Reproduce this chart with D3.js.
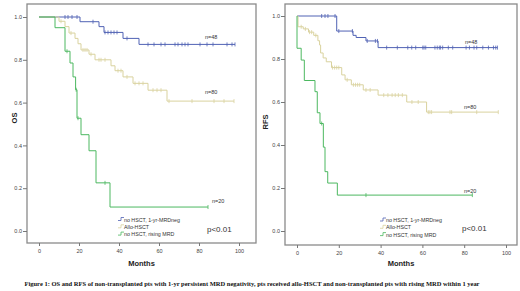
<!DOCTYPE html>
<html>
<head>
<meta charset="utf-8">
<script src="https://cdn.jsdelivr.net/npm/d3@7"></script>
<style>
  body { margin: 0; background: #fff; }
  svg { display: block; }
  text { font-family: "Liberation Sans", Arial, sans-serif; }
</style>
</head>
<body>
<div id="chart"></div>
<script>
// tick labels / legend
const xTicks = [0, 20, 40, 60, 80, 100];
const yTicks = [0, 0.2, 0.4, 0.6, 0.8, 1.0];
const seriesNames = ["no HSCT, 1-yr-MRDneg", "Allo-HSCT", "no HSCT, rising MRD"];
const seriesColors = ["#5062b4", "#d9d29e", "#4cb860"];
const nLabels = ["n=48", "n=80", "n=20"];

// OS — step events [month, survival]
const osNegSteps = [[0, 1], [20.5, 0.978], [30, 0.955], [32.5, 0.928], [42, 0.90], [50, 0.872]];
const osNegCensor = [13, 14.5, 16.5, 19, 27, 33, 34.5, 36, 37.5, 39, 44, 54.5, 57.5, 61, 63, 68, 69.5, 71.5, 73, 74.5, 80.5, 84, 87, 94, 96.5, 98];
const osAlloSteps = [[0, 1], [10, 0.98], [13, 0.955], [15, 0.925], [18, 0.90], [19.5, 0.875], [21, 0.846], [25, 0.826], [28, 0.80], [36, 0.772], [38, 0.749], [42, 0.72], [47, 0.69], [54.5, 0.658], [64, 0.607]];
const osAlloCensor = [11, 16, 22, 23, 24, 26, 30, 31, 33, 39.5, 41, 44, 48, 50, 52, 57, 59, 61, 65, 76.5, 87.5, 92.5, 97.5];
const osRiseSteps = [[0, 1], [8, 0.95], [13, 0.84], [15.5, 0.785], [17, 0.72], [18.3, 0.66], [19, 0.527], [21, 0.45], [25, 0.375], [28.5, 0.225], [35.5, 0.112]];
const osRiseCensor = [14, 18.6, 19.5, 33, 84.5];

// RFS — step events [month, survival]
const rfsNegSteps = [[0, 1], [19, 0.93], [26.8, 0.91], [28.3, 0.90], [33, 0.884], [38.8, 0.853]];
const rfsNegCensor = [11.8, 13.4, 14.8, 18.2, 20, 26.5, 33.6, 37.5, 38.5, 42.9, 48, 53, 54.9, 56.8, 60.2, 60.8, 61.6, 66, 67.1, 68.1, 68.7, 69.7, 72.4, 74.5, 80.9, 82.5, 84.7, 86, 88.9, 91.6, 94, 95.1, 95.9];
const rfsAlloSteps = [[0, 1], [0.5, 0.95], [3, 0.94], [5.5, 0.925], [8, 0.91], [10, 0.885], [10.8, 0.865], [11.3, 0.828], [12.5, 0.805], [14, 0.787], [16.5, 0.76], [21.4, 0.726], [23, 0.703], [26, 0.68], [31.7, 0.656], [38.8, 0.632], [52.5, 0.60], [62, 0.553]];
const rfsAlloCensor = [2, 4, 6, 7, 9, 17, 18, 19, 20, 24, 27, 28, 29, 30, 33, 35, 41.5, 43.5, 45.5, 47, 48.5, 50.4, 55, 58, 62.8, 63.6, 64.4, 73.2, 74, 86, 96.3];
const rfsRiseSteps = [[0, 0.85], [2, 0.795], [3.5, 0.70], [8.6, 0.648], [9.7, 0.55], [11, 0.50], [12.6, 0.39], [13.4, 0.276], [14.7, 0.223], [19.3, 0.167]];
const rfsRiseCensor = [11.8, 33, 83.9];

const caption = "Figure 1: OS and RFS of non-transplanted pts with 1-yr persistent MRD negativity, pts received allo-HSCT and non-transplanted pts with rising MRD within 1 year";

const W = 520, H = 291;
const svg = d3.select("#chart").append("svg").attr("width", W).attr("height", H);

function survAt(steps, t) {
  let s = steps[0][1];
  steps.forEach(d => { if (d[0] <= t) s = d[1]; });
  return s;
}

function drawPanel(cfg) {
  const x = d3.scaleLinear().domain([0, 100]).range(cfg.xRange);
  const y = d3.scaleLinear().domain([0, 1]).range(cfg.yRange);
  const g = svg.append("g");

  // frame
  g.append("rect")
    .attr("x", cfg.frame[0]).attr("y", cfg.frame[1])
    .attr("width", cfg.frame[2] - cfg.frame[0]).attr("height", cfg.frame[3] - cfg.frame[1])
    .attr("fill", "none").attr("stroke", "#8a8a8a").attr("stroke-width", 1.3);

  // y axis
  const yAxis = g.append("g").attr("transform", `translate(${cfg.frame[0]},0)`)
    .call(d3.axisLeft(y).tickValues(yTicks).tickFormat(d3.format(".1f")).tickSize(4).tickPadding(1));
  yAxis.select(".domain").remove();
  yAxis.selectAll("line").attr("stroke", "#777");
  yAxis.selectAll("text").attr("font-size", 5.5).attr("fill", "#444")
    .style("font-family", "'Liberation Sans', Arial, sans-serif");

  // x axis
  const xAxis = g.append("g").attr("transform", `translate(0,${cfg.frame[3]})`)
    .call(d3.axisBottom(x).tickValues(xTicks).tickSize(3).tickPadding(3));
  xAxis.select(".domain").remove();
  xAxis.selectAll("line").attr("stroke", "#777");
  xAxis.selectAll("text").attr("font-size", 5.5).attr("fill", "#444")
    .style("font-family", "'Liberation Sans', Arial, sans-serif");

  g.append("text").attr("x", (cfg.frame[0] + cfg.frame[2]) / 2).attr("y", 266)
    .attr("text-anchor", "middle").attr("font-size", 7.5).attr("font-weight", "bold")
    .attr("fill", "#222").text("Months");
  g.append("text").attr("transform", `translate(${cfg.ylabX},${cfg.ylabY}) rotate(-90)`)
    .attr("text-anchor", "middle").attr("font-size", 7.5).attr("font-weight", "bold")
    .attr("fill", "#222").text(cfg.ylab);

  const line = d3.line().x(d => x(d[0])).y(d => y(d[1])).curve(d3.curveStepAfter);

  cfg.series.forEach((s, i) => {
    const end = d3.max(s.censor);
    const pts = s.steps.slice();
    if (s.steps[0][1] < 1) pts.unshift([0, 1]);
    pts.push([end, s.steps[s.steps.length - 1][1]]);
    // vertical drop at t=0 if first step starts below 1
    const path = pts[0][0] === pts[1][0] ? pts.slice(1) : pts;
    const lineG = g.append("g");
    if (s.steps[0][1] < 1) {
      lineG.append("line").attr("x1", x(0)).attr("x2", x(0))
        .attr("y1", y(1)).attr("y2", y(s.steps[0][1]))
        .attr("stroke", seriesColors[i]).attr("stroke-width", 1);
    }
    lineG.append("path").datum(path)
      .attr("d", line).attr("fill", "none")
      .attr("stroke", seriesColors[i]).attr("stroke-width", 1);
    lineG.selectAll("line.cens").data(s.censor).join("line")
      .attr("class", "cens")
      .attr("x1", d => x(d)).attr("x2", d => x(d))
      .attr("y1", d => y(survAt(s.steps, d)) - 2)
      .attr("y2", d => y(survAt(s.steps, d)) + 2)
      .attr("stroke", seriesColors[i]).attr("stroke-width", 0.8);

    g.append("text").attr("x", cfg.nPos[i][0]).attr("y", cfg.nPos[i][1])
      .attr("font-size", 5.5).attr("fill", "#333").text(nLabels[i]);
  });

  // legend
  seriesNames.forEach((name, i) => {
    const lx = cfg.legend[0], ly = cfg.legend[1] + i * 7.3;
    g.append("path")
      .attr("d", `M${lx},${ly + 1}H${lx + 3}V${ly - 2}H${lx + 6}`)
      .attr("fill", "none").attr("stroke", seriesColors[i]).attr("stroke-width", 0.8);
    g.append("text").attr("x", lx + 6).attr("y", ly + 2)
      .attr("font-size", 5.3).attr("fill", "#333").text(name);
  });

  g.append("text").attr("x", cfg.pPos[0]).attr("y", cfg.pPos[1])
    .attr("font-size", 8).attr("fill", "#333").text("p<0.01");
}

drawPanel({
  xRange: [39, 239], yRange: [231, 17], frame: [27, 4, 256, 243],
  ylab: "OS", ylabX: 17, ylabY: 118,
  series: [
    { steps: osNegSteps, censor: osNegCensor },
    { steps: osAlloSteps, censor: osAlloCensor },
    { steps: osRiseSteps, censor: osRiseCensor }
  ],
  nPos: [[205, 38.5], [205, 93.5], [212, 202.5]],
  legend: [118, 219.5], pPos: [207, 231.5]
});

drawPanel({
  xRange: [297, 506], yRange: [231, 16], frame: [285, 4, 517, 245],
  ylab: "RFS", ylabX: 268, ylabY: 122,
  series: [
    { steps: rfsNegSteps, censor: rfsNegCensor },
    { steps: rfsAlloSteps, censor: rfsAlloCensor },
    { steps: rfsRiseSteps, censor: rfsRiseCensor }
  ],
  nPos: [[465, 43.5], [464, 108.5], [464, 193]],
  legend: [380, 220], pPos: [462, 230.5]
});

svg.append("text").attr("x", 252).attr("y", 286)
  .attr("text-anchor", "middle").attr("font-size", 6).attr("font-weight", "bold")
  .attr("textLength", 455).attr("lengthAdjust", "spacingAndGlyphs")
  .style("font-family", "'Liberation Serif', 'Times New Roman', serif")
  .attr("fill", "#111").text(caption);
</script>
</body>
</html>
